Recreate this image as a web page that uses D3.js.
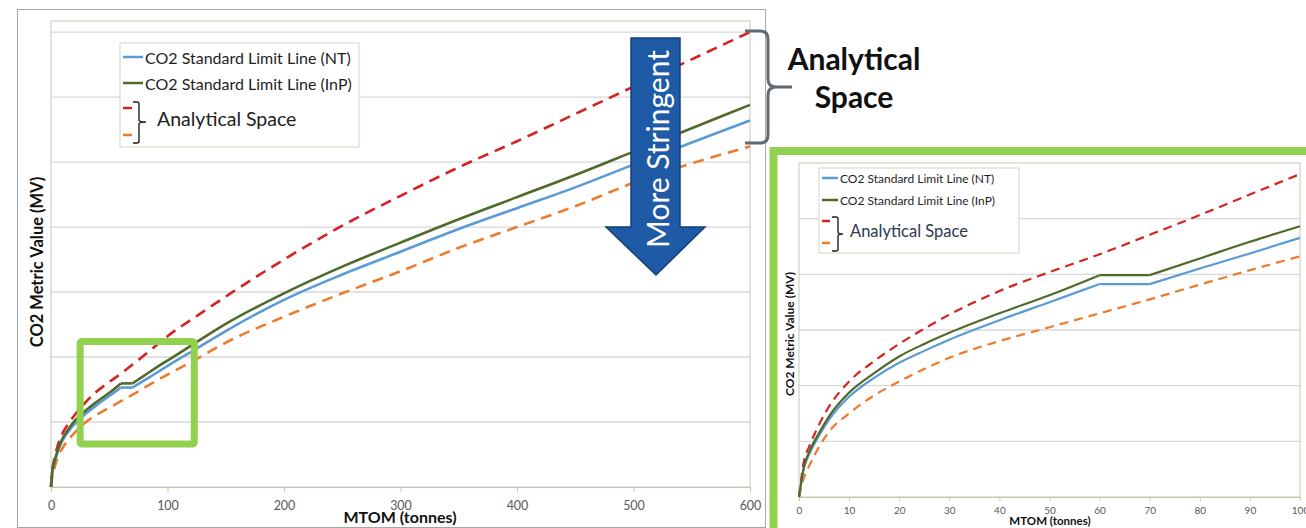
<!DOCTYPE html>
<meta charset="utf-8">
<style>
body { margin: 0; background: #fff; }
svg { display: block; font-family: Lato, "Open Sans", sans-serif; }
.grid line { stroke: #d9d9d9; stroke-width: 1.3; }
.axis path, .axis line { stroke: #c6c9b0; }
.axis text { fill: #595959; font-family: Lato, sans-serif; }
.title { font-weight: bold; fill: #111; }
</style>
<body>
<script src="https://cdnjs.cloudflare.com/ajax/libs/d3/7.8.5/d3.min.js"></script>
<script>

// MTOM (tonnes) values the curves were read at
var tonnes   = [0, 1, 2, 4, 6, 10, 15, 20, 25, 30, 40, 50, 60, 70, 80, 90, 100, 125, 150, 200, 250, 300, 350, 400, 450, 500, 550, 600];
// CO2 metric value (MV) (y ticks are hidden in the source)
var limitNT  = [0, 10.5, 15.2, 22, 27.8, 36, 42.8, 48.2, 52.5, 56.5, 63.5, 70, 76.5, 76.5, 82.1, 87.5, 93.1, 106.5, 120, 144, 163.5, 181, 198.5, 214.5, 230.5, 248, 265, 282];
var limitInP = [0, 11, 16, 23, 29, 37.5, 44.5, 50.5, 55, 59, 66, 72.5, 79.7, 79.7, 85.7, 91.7, 97.3, 111.5, 125.5, 149, 169.5, 188, 206, 223, 240, 258, 276, 294];
var spaceHigh = [0, 13, 18, 26, 32.5, 41.5, 48.8, 55, 60.5, 65.5, 74, 80.8, 87.2, 94.2, 101.3, 108.7, 116, 131.5, 146.5, 175, 201, 224, 246, 266, 287, 308, 329, 350];
var spaceLow  = [0, 7, 11, 18, 23.5, 30, 36.5, 41.5, 46, 50, 56, 61, 66, 71, 76.3, 81.5, 86.5, 98.5, 111, 131, 149, 166, 184, 200, 216, 234, 249, 262];

var legendLabels = ["CO2 Standard Limit Line (NT)", "CO2 Standard Limit Line (InP)"];
var spaceLabel = "Analytical Space";

var mainXTicks = [0, 100, 200, 300, 400, 500, 600];
var mainGrid = [50, 100, 150, 200, 250, 300, 350];
var insetXTicks = [0, 10, 20, 30, 40, 50, 60, 70, 80, 90, 100];
var insetGrid = [20, 40, 60, 80, 100];

// area shown in the inset, marked on the main chart
var zoomBoxX = [25, 123];
var zoomBoxY = [33, 112];

var series = [
  {name: "low",  values: spaceLow,  color: "#ee7b2c", dash: true},
  {name: "high", values: spaceHigh, color: "#d42323", dash: true},
  {name: "nt",   values: limitNT,   color: "#5b9bd5", dash: false},
  {name: "inp",  values: limitInP,  color: "#4f6a2a", dash: false}
];

var svg = d3.select("body").append("svg")
    .attr("width", 1306)
    .attr("height", 528);

// split a series where it goes flat, so the step keeps its sharp corners
function pieces(values, maxX) {
  var pts = tonnes.map(function(t, i) { return [t, values[i]]; })
                  .filter(function(p) { return p[0] <= maxX; });
  var out = [], cur = [pts[0]];
  for (var i = 1; i < pts.length; i++) {
    var flatNow = pts[i][1] === pts[i-1][1];
    if (cur.length > 1) {
      var flatPrev = cur[cur.length-1][1] === cur[cur.length-2][1];
      if (flatPrev !== flatNow) { out.push(cur); cur = [pts[i-1]]; }
    }
    cur.push(pts[i]);
  }
  out.push(cur);
  return out;
}

function drawPanel(cfg) {
  var x = d3.scaleLinear().domain(cfg.xDomain).range(cfg.xRange);
  var y = d3.scaleLinear().domain(cfg.yDomain).range(cfg.yRange);
  var g = svg.append("g");

  // gridlines
  g.append("g").attr("class", "grid")
    .selectAll("line")
    .data(cfg.grid)
    .enter().append("line")
      .attr("x1", cfg.xRange[0]).attr("x2", cfg.xRange[1])
      .attr("y1", function(d) { return y(d); })
      .attr("y2", function(d) { return y(d); });

  // plot area border
  g.append("rect")
    .attr("x", cfg.xRange[0]).attr("y", cfg.yRange[1])
    .attr("width", cfg.xRange[1] - cfg.xRange[0])
    .attr("height", cfg.yRange[0] - cfg.yRange[1])
    .attr("fill", "none").attr("stroke", "#c6c9b0");

  // x axis
  var ax = g.append("g")
    .attr("class", "axis")
    .attr("transform", "translate(0," + cfg.yRange[0] + ")")
    .call(d3.axisBottom(x).tickValues(cfg.xTicks).tickSize(cfg.tickSize).tickPadding(cfg.tickPad).tickSizeOuter(0));
  ax.selectAll("text").style("font-size", cfg.tickFont + "px");

  // curves
  var line = d3.line()
    .x(function(d) { return x(d[0]); })
    .y(function(d) { return y(d[1]); })
    .curve(d3.curveMonotoneX);

  series.forEach(function(s) {
    g.selectAll(".s-" + s.name)
      .data(pieces(s.values, cfg.xDomain[1]))
      .enter().append("path")
        .attr("class", "s-" + s.name)
        .attr("d", line)
        .attr("fill", "none")
        .attr("stroke", s.color)
        .attr("stroke-width", cfg.lineWidth)
        .attr("stroke-dasharray", s.dash ? cfg.dash : null);
  });

  // axis titles
  g.append("text")
    .attr("class", "title")
    .attr("x", cfg.xTitle[0]).attr("y", cfg.xTitle[1])
    .attr("text-anchor", "middle")
    .style("font-size", cfg.titleFont + "px")
    .text("MTOM (tonnes)");
  g.append("text")
    .attr("class", "title")
    .attr("transform", "translate(" + cfg.yTitle[0] + "," + cfg.yTitle[1] + ") rotate(-90)")
    .attr("text-anchor", "middle")
    .attr("dominant-baseline", "central")
    .style("font-size", cfg.yTitleFont + "px")
    .text("CO2 Metric Value (MV)");

  // legend
  var L = cfg.legend;
  var lg = g.append("g").attr("transform", "translate(" + L.x + "," + L.y + ")");
  lg.append("rect")
    .attr("width", L.w).attr("height", L.h)
    .attr("fill", "#fff").attr("stroke", "#d3d6c0");
  [series[2], series[3]].forEach(function(s, i) {
    var yy = L.rows[i];
    lg.append("line")
      .attr("x1", 3).attr("x2", L.lineLen).attr("y1", yy).attr("y2", yy)
      .attr("stroke", s.color).attr("stroke-width", 2.5);
    lg.append("text")
      .attr("x", L.lineLen + 2).attr("y", yy)
      .attr("dominant-baseline", "central")
      .style("font-size", L.font + "px").attr("fill", "#1e1e1e")
      .text(legendLabels[i]);
  });
  [series[1], series[0]].forEach(function(s, i) {
    var yy = L.dashRows[i];
    lg.append("line")
      .attr("x1", 3).attr("x2", L.dashLen).attr("y1", yy).attr("y2", yy)
      .attr("stroke", s.color).attr("stroke-width", 2.5);
  });
  var b = L.brace;
  lg.append("path")
    .attr("d", "M" + b.x0 + "," + b.y0 + " H" + (b.x1 - 2) + " Q" + b.x1 + "," + b.y0 + " " + b.x1 + "," + (b.y0 + 2) +
               " V" + (b.ym - 2) + " Q" + b.x1 + "," + b.ym + " " + b.x2 + "," + b.ym +
               " Q" + b.x1 + "," + b.ym + " " + b.x1 + "," + (b.ym + 2) +
               " V" + (b.y1 - 2) + " Q" + b.x1 + "," + b.y1 + " " + (b.x1 - 2) + "," + b.y1 + " H" + b.x0)
    .attr("fill", "none").attr("stroke", "#222").attr("stroke-width", 1.4);
  lg.append("text")
    .attr("x", L.spaceX).attr("y", L.spaceY)
    .attr("dominant-baseline", "central")
    .style("font-size", L.spaceFont + "px").attr("fill", L.spaceColor)
    .text(spaceLabel);

  return {x: x, y: y, g: g};
}

// ---- main chart ----
svg.append("rect")
  .attr("x", 17.5).attr("y", 9.5).attr("width", 748).attr("height", 518)
  .attr("fill", "#fff").attr("stroke", "#a6a6a6");

var main = drawPanel({
  xDomain: [0, 600], xRange: [51, 750],
  yDomain: [0, 358.5], yRange: [487, 21],
  grid: mainGrid, xTicks: mainXTicks,
  tickSize: 5, tickPad: 9, tickFont: 12.5,
  lineWidth: 2.6, dash: "11,7",
  xTitle: [400, 523], titleFont: 16,
  yTitle: [37, 262], yTitleFont: 16.5,
  legend: {x: 120, y: 43, w: 239, h: 104, rows: [14, 40], lineLen: 23, font: 16,
           dashRows: [65, 92], dashLen: 12,
           brace: {x0: 13, x1: 19, x2: 26, y0: 59, ym: 79, y1: 100},
           spaceX: 37, spaceY: 75, spaceFont: 19.5, spaceColor: "#222"}
});

// green box marking the zoomed region
main.g.append("rect")
  .attr("x", main.x(zoomBoxX[0])).attr("y", main.y(zoomBoxY[1]))
  .attr("width", main.x(zoomBoxX[1]) - main.x(zoomBoxX[0]))
  .attr("height", main.y(zoomBoxY[0]) - main.y(zoomBoxY[1]))
  .attr("rx", 2)
  .attr("fill", "none").attr("stroke", "#92d050").attr("stroke-width", 7);

// "More Stringent" arrow
svg.append("polygon")
  .attr("points", "631,38 680,38 680,227 705,227 656,275 606,227 631,227")
  .attr("fill", "#1f5aa6").attr("stroke", "#173f78").attr("stroke-width", 1.5);
svg.append("text")
  .attr("transform", "translate(657,149) rotate(-90)")
  .attr("text-anchor", "middle")
  .attr("dominant-baseline", "central")
  .style("font-size", "30px").attr("fill", "#fff")
  .text("More Stringent");

// brace + "Analytical Space" label
svg.append("path")
  .attr("d", "M745,31 H760 Q768,31 768,39 V79 Q768,87 776,87 H792 M776,87 Q768,87 768,95 V135 Q768,143 760,143 H745")
  .attr("fill", "none").attr("stroke", "#5f6b75").attr("stroke-width", 3);
svg.append("text").attr("class", "title")
  .attr("x", 854).attr("y", 70).attr("text-anchor", "middle")
  .style("font-size", "30px").attr("fill", "#1a1a1a")
  .text("Analytical");
svg.append("text").attr("class", "title")
  .attr("x", 854).attr("y", 108).attr("text-anchor", "middle")
  .style("font-size", "30px").attr("fill", "#1a1a1a")
  .text("Space");

// ---- inset ----
svg.append("rect")
  .attr("x", 773.5).attr("y", 151).attr("width", 600).attr("height", 500)
  .attr("fill", "#fff").attr("stroke", "#92d050").attr("stroke-width", 8);

drawPanel({
  xDomain: [0, 100], xRange: [799, 1300],
  yDomain: [0, 120], yRange: [497, 163],
  grid: insetGrid, xTicks: insetXTicks,
  tickSize: 4, tickPad: 6, tickFont: 10,
  lineWidth: 2.2, dash: "9,6",
  xTitle: [1050, 525], titleFont: 11.5,
  yTitle: [789, 334], yTitleFont: 12,
  legend: {x: 819, y: 168, w: 200, h: 85, rows: [10, 32], lineLen: 19, font: 12,
           dashRows: [53, 75], dashLen: 11,
           brace: {x0: 13, x1: 19, x2: 24, y0: 49, ym: 66, y1: 83},
           spaceX: 31, spaceY: 63, spaceFont: 16.5, spaceColor: "#2c3a4f"}
});

</script>
</body>
